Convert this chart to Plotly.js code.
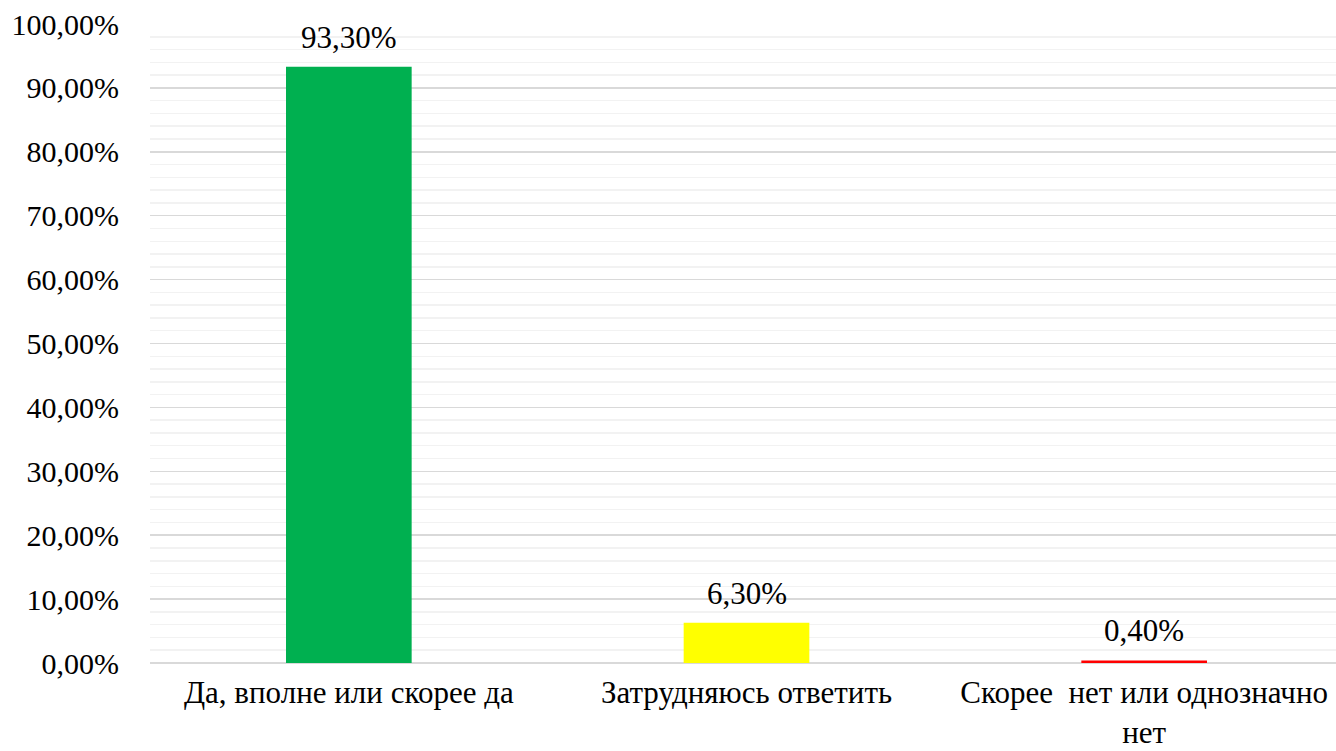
<!DOCTYPE html>
<html><head><meta charset="utf-8">
<script src="https://cdn.plot.ly/plotly-3.0.1.min.js"></script>
<style>html,body{margin:0;padding:0;overflow:hidden;background:#fff}</style>
</head><body><div id="chart"></div>
<script>
const categories = ["Да, вполне или скорее да", "Затрудняюсь ответить", "Скорее\u00a0 нет или однозначно<br>нет"];
const values = [93.3, 6.3, 0.4];
const barColors = ["#00B050", "#FFFF00", "#FF0000"];
const yTickValues = [0, 10, 20, 30, 40, 50, 60, 70, 80, 90, 100];

const fmt = v => v.toFixed(2).replace('.', ',') + '%';
const fontFamily = '"Liberation Serif", "Times New Roman", serif';

const annotations = categories.map((c, i) => ({
  x: c, y: values[i], text: fmt(values[i]),
  showarrow: false, xanchor: 'center', yanchor: 'bottom', yshift: 10,
  font: {family: fontFamily, size: 31, color: '#000'}
}));

Plotly.newPlot('chart', [{
  type: 'bar',
  x: categories,
  y: values,
  marker: {color: barColors},
  hoverinfo: 'none'
}], {
  width: 1343, height: 751,
  margin: {l: 150, r: 0, t: 24, b: 88},
  bargap: 0.684,
  paper_bgcolor: '#fff', plot_bgcolor: '#fff',
  showlegend: false,
  font: {family: fontFamily, size: 30, color: '#000'},
  annotations: annotations,
  xaxis: {
    showgrid: false, showline: false, zeroline: false, ticks: '',
    tickfont: {family: fontFamily, size: 31, color: '#000'},
    tickangle: 0, ticklabelstandoff: 8
  },
  yaxis: {
    range: [0, 100], tickvals: yTickValues, ticktext: yTickValues.map(fmt),
    showgrid: true, gridcolor: '#D9D9D9', gridwidth: 1.5,
    zeroline: true, zerolinecolor: '#D9D9D9', zerolinewidth: 1.5,
    showline: false, ticks: '', ticklabelstandoff: 30,
    tickfont: {family: fontFamily, size: 30, color: '#000'},
    minor: {dtick: 2, showgrid: true, gridcolor: '#F2F2F2', gridwidth: 1.5, ticks: ''}
  }
}, {staticPlot: true});
</script></body></html>
